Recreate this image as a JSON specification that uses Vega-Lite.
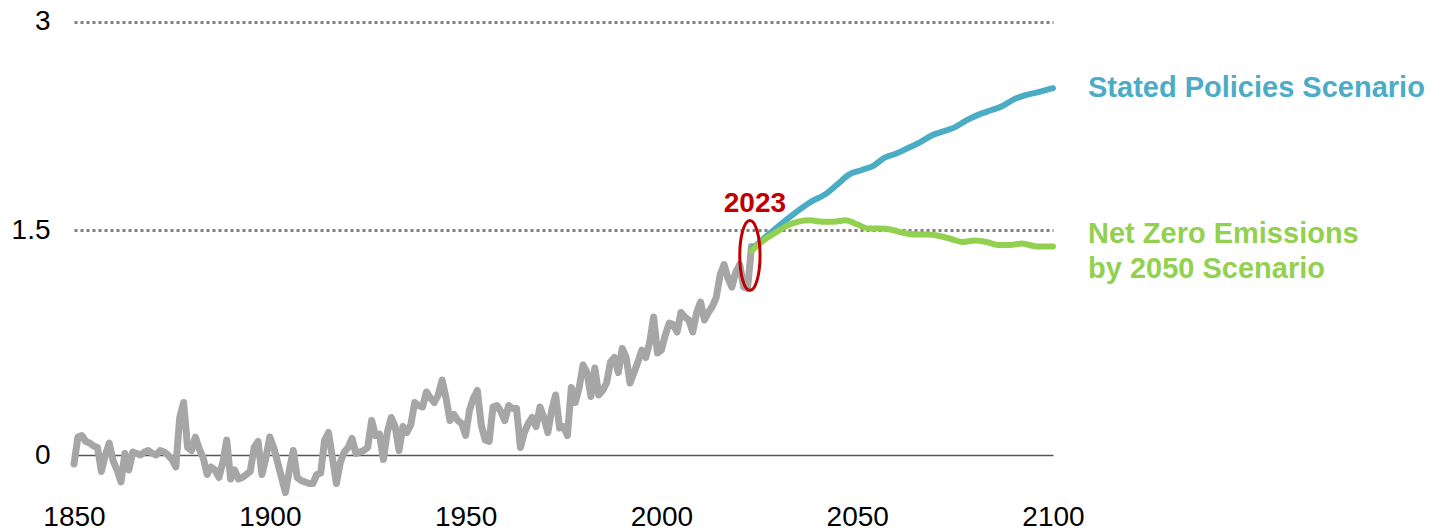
{
  "$schema": "https://vega.github.io/schema/vega-lite/v6.json",
  "width": 979,
  "height": 479,
  "autosize": "none",
  "padding": {"left": 74, "top": 21, "right": 378, "bottom": 32},
  "background": "white",
  "config": {"view": {"stroke": null}, "font": "Liberation Sans"},
  "datasets": {
    "hist": [
      {"year":1850,"value":-0.06},{"year":1851,"value":0.12},{"year":1852,"value":0.13},{"year":1853,"value":0.09},{"year":1854,"value":0.08},
      {"year":1855,"value":0.06},{"year":1856,"value":0.05},{"year":1857,"value":-0.11},{"year":1858,"value":0.0},{"year":1859,"value":0.08},
      {"year":1860,"value":-0.04},{"year":1861,"value":-0.1},{"year":1862,"value":-0.18},{"year":1863,"value":0.01},{"year":1864,"value":-0.1},
      {"year":1865,"value":0.02},{"year":1866,"value":0.01},{"year":1867,"value":0.0},{"year":1868,"value":0.02},{"year":1869,"value":0.03},
      {"year":1870,"value":0.01},{"year":1871,"value":0.0},{"year":1872,"value":0.03},{"year":1873,"value":0.02},{"year":1874,"value":0.0},
      {"year":1875,"value":-0.03},{"year":1876,"value":-0.08},{"year":1877,"value":0.25},{"year":1878,"value":0.35},{"year":1879,"value":0.05},
      {"year":1880,"value":0.03},{"year":1881,"value":0.12},{"year":1882,"value":0.04},{"year":1883,"value":-0.02},{"year":1884,"value":-0.13},
      {"year":1885,"value":-0.08},{"year":1886,"value":-0.1},{"year":1887,"value":-0.15},{"year":1888,"value":-0.05},{"year":1889,"value":0.1},
      {"year":1890,"value":-0.16},{"year":1891,"value":-0.1},{"year":1892,"value":-0.16},{"year":1893,"value":-0.15},{"year":1894,"value":-0.13},
      {"year":1895,"value":-0.11},{"year":1896,"value":0.05},{"year":1897,"value":0.09},{"year":1898,"value":-0.13},{"year":1899,"value":-0.02},
      {"year":1900,"value":0.12},{"year":1901,"value":0.05},{"year":1902,"value":-0.05},{"year":1903,"value":-0.15},{"year":1904,"value":-0.25},
      {"year":1905,"value":-0.1},{"year":1906,"value":0.03},{"year":1907,"value":-0.15},{"year":1908,"value":-0.17},{"year":1909,"value":-0.18},
      {"year":1910,"value":-0.19},{"year":1911,"value":-0.19},{"year":1912,"value":-0.13},{"year":1913,"value":-0.12},{"year":1914,"value":0.1},
      {"year":1915,"value":0.15},{"year":1916,"value":-0.02},{"year":1917,"value":-0.19},{"year":1918,"value":-0.05},{"year":1919,"value":0.02},
      {"year":1920,"value":0.05},{"year":1921,"value":0.11},{"year":1922,"value":0.01},{"year":1923,"value":0.02},{"year":1924,"value":0.03},
      {"year":1925,"value":0.05},{"year":1926,"value":0.23},{"year":1927,"value":0.13},{"year":1928,"value":0.14},{"year":1929,"value":-0.03},
      {"year":1930,"value":0.15},{"year":1931,"value":0.25},{"year":1932,"value":0.19},{"year":1933,"value":0.03},{"year":1934,"value":0.19},
      {"year":1935,"value":0.15},{"year":1936,"value":0.2},{"year":1937,"value":0.35},{"year":1938,"value":0.33},{"year":1939,"value":0.32},
      {"year":1940,"value":0.42},{"year":1941,"value":0.38},{"year":1942,"value":0.35},{"year":1943,"value":0.4},{"year":1944,"value":0.5},
      {"year":1945,"value":0.38},{"year":1946,"value":0.23},{"year":1947,"value":0.27},{"year":1948,"value":0.23},{"year":1949,"value":0.21},
      {"year":1950,"value":0.13},{"year":1951,"value":0.3},{"year":1952,"value":0.38},{"year":1953,"value":0.43},{"year":1954,"value":0.2},
      {"year":1955,"value":0.1},{"year":1956,"value":0.09},{"year":1957,"value":0.32},{"year":1958,"value":0.33},{"year":1959,"value":0.29},
      {"year":1960,"value":0.23},{"year":1961,"value":0.33},{"year":1962,"value":0.31},{"year":1963,"value":0.31},{"year":1964,"value":0.05},
      {"year":1965,"value":0.15},{"year":1966,"value":0.21},{"year":1967,"value":0.25},{"year":1968,"value":0.19},{"year":1969,"value":0.32},
      {"year":1970,"value":0.25},{"year":1971,"value":0.15},{"year":1972,"value":0.3},{"year":1973,"value":0.4},{"year":1974,"value":0.18},
      {"year":1975,"value":0.19},{"year":1976,"value":0.13},{"year":1977,"value":0.45},{"year":1978,"value":0.35},{"year":1979,"value":0.45},
      {"year":1980,"value":0.6},{"year":1981,"value":0.55},{"year":1982,"value":0.39},{"year":1983,"value":0.58},{"year":1984,"value":0.4},
      {"year":1985,"value":0.43},{"year":1986,"value":0.48},{"year":1987,"value":0.62},{"year":1988,"value":0.65},{"year":1989,"value":0.55},
      {"year":1990,"value":0.71},{"year":1991,"value":0.65},{"year":1992,"value":0.48},{"year":1993,"value":0.55},{"year":1994,"value":0.62},
      {"year":1995,"value":0.7},{"year":1996,"value":0.65},{"year":1997,"value":0.75},{"year":1998,"value":0.92},{"year":1999,"value":0.68},
      {"year":2000,"value":0.7},{"year":2001,"value":0.8},{"year":2002,"value":0.88},{"year":2003,"value":0.87},{"year":2004,"value":0.82},
      {"year":2005,"value":0.95},{"year":2006,"value":0.92},{"year":2007,"value":0.9},{"year":2008,"value":0.82},{"year":2009,"value":0.95},
      {"year":2010,"value":1.02},{"year":2011,"value":0.9},{"year":2012,"value":0.95},{"year":2013,"value":0.99},{"year":2014,"value":1.05},
      {"year":2015,"value":1.2},{"year":2016,"value":1.27},{"year":2017,"value":1.18},{"year":2018,"value":1.12},{"year":2019,"value":1.22},
      {"year":2020,"value":1.27},{"year":2021,"value":1.12},{"year":2022,"value":1.11},{"year":2023,"value":1.39}
    ],
    "steps": [
      {"year":2023,"value":1.37},{"year":2026,"value":1.44},{"year":2030,"value":1.53},{"year":2034,"value":1.62},{"year":2038,"value":1.7},
      {"year":2042,"value":1.76},{"year":2045,"value":1.83},{"year":2048,"value":1.9},{"year":2051,"value":1.93},{"year":2054,"value":1.96},
      {"year":2057,"value":2.02},{"year":2060,"value":2.05},{"year":2063,"value":2.09},{"year":2066,"value":2.13},{"year":2069,"value":2.18},
      {"year":2072,"value":2.21},{"year":2075,"value":2.24},{"year":2078,"value":2.29},{"year":2081,"value":2.33},{"year":2084,"value":2.36},
      {"year":2087,"value":2.39},{"year":2090,"value":2.44},{"year":2093,"value":2.47},{"year":2096,"value":2.49},{"year":2100,"value":2.52}
    ],
    "nze": [
      {"year":2023,"value":1.36},{"year":2026,"value":1.43},{"year":2029,"value":1.48},{"year":2032,"value":1.53},{"year":2035,"value":1.56},
      {"year":2038,"value":1.57},{"year":2041,"value":1.56},{"year":2044,"value":1.56},{"year":2047,"value":1.57},{"year":2050,"value":1.54},
      {"year":2053,"value":1.51},{"year":2056,"value":1.51},{"year":2059,"value":1.5},{"year":2062,"value":1.48},{"year":2065,"value":1.47},
      {"year":2068,"value":1.47},{"year":2071,"value":1.46},{"year":2074,"value":1.44},{"year":2077,"value":1.42},{"year":2080,"value":1.43},
      {"year":2083,"value":1.42},{"year":2086,"value":1.4},{"year":2089,"value":1.4},{"year":2092,"value":1.41},{"year":2096,"value":1.39},
      {"year":2100,"value":1.39}
    ],
    "stepsLabel": [{"year":2100,"value":2.52,"label":"Stated Policies Scenario"}],
    "nzeLabel": [{"year":2100,"value":1.39,"label":"Net Zero Emissions\nby 2050 Scenario"}],
    "marker": [{"year":2022.6,"value":1.33,"label":"2023"}]
  },
  "encoding": {
    "x": {
      "field": "year", "type": "quantitative",
      "scale": {"domain": [1850, 2100], "nice": false, "zero": false},
      "axis": {
        "title": null, "values": [1850, 1900, 1950, 2000, 2050, 2100], "format": "d",
        "domain": false, "ticks": false, "grid": false,
        "labelFontSize": 28, "labelColor": "#000000", "labelFont": "Liberation Sans",
        "labelPadding": 3, "labelDx": 4, "labelFlush": false, "labelOverlap": false, "labelBound": false
      }
    },
    "y": {
      "field": "value", "type": "quantitative",
      "scale": {"domain": [0, 1.5, 3], "range": [434, 209, 0.5], "nice": false, "zero": false},
      "axis": {
        "title": null, "values": [0, 1.5, 3], "labelExpr": "'' + datum.value",
        "domain": false, "ticks": false, "grid": true,
        "gridDash": {"condition": {"test": "datum.value === 0", "value": [1, 0]}, "value": [3, 3]},
        "gridColor": {"condition": {"test": "datum.value === 0", "value": "#555555"}, "value": "#808080"},
        "gridWidth": {"condition": {"test": "datum.value === 0", "value": 1.5}, "value": 3},
        "labelFontSize": 28, "labelColor": "#000000", "labelFont": "Liberation Sans",
        "labelPadding": 24, "labelOverlap": false, "labelBound": false, "labelFlush": false
      }
    }
  },
  "layer": [
    {
      "data": {"name": "hist"},
      "mark": {"type": "line", "color": "#a6a6a6", "strokeWidth": 7, "strokeJoin": "round", "strokeCap": "round", "clip": false}
    },
    {
      "data": {"name": "steps"},
      "mark": {"type": "line", "color": "#4bacc6", "strokeWidth": 6, "strokeJoin": "round", "strokeCap": "round", "interpolate": "monotone"}
    },
    {
      "data": {"name": "nze"},
      "mark": {"type": "line", "color": "#92d050", "strokeWidth": 6, "strokeJoin": "round", "strokeCap": "round", "interpolate": "monotone"}
    },
    {
      "data": {"name": "stepsLabel"},
      "mark": {"type": "text", "color": "#4bacc6", "fontSize": 29, "fontWeight": "bold", "align": "left", "baseline": "alphabetic", "dx": 35, "dy": 9},
      "encoding": {"text": {"field": "label"}}
    },
    {
      "data": {"name": "nzeLabel"},
      "mark": {"type": "text", "color": "#92d050", "fontSize": 29, "fontWeight": "bold", "align": "left", "baseline": "alphabetic", "dx": 35, "dy": -3.5, "lineBreak": "\n", "lineHeight": 35},
      "encoding": {"text": {"field": "label"}}
    },
    {
      "data": {"name": "marker"},
      "mark": {"type": "point", "shape": "M0,-1C0.16,-1,0.29,-0.552,0.29,0C0.29,0.552,0.16,1,0,1C-0.16,1,-0.29,0.552,-0.29,0C-0.29,-0.552,-0.16,-1,0,-1Z", "size": 4900, "filled": false, "stroke": "#c00000", "strokeWidth": 3, "opacity": 1}
    },
    {
      "data": {"name": "marker"},
      "mark": {"type": "text", "color": "#c00000", "fontSize": 28, "fontWeight": "bold", "align": "center", "baseline": "alphabetic", "dx": 5, "dy": -44},
      "encoding": {"text": {"field": "label"}}
    }
  ]
}
